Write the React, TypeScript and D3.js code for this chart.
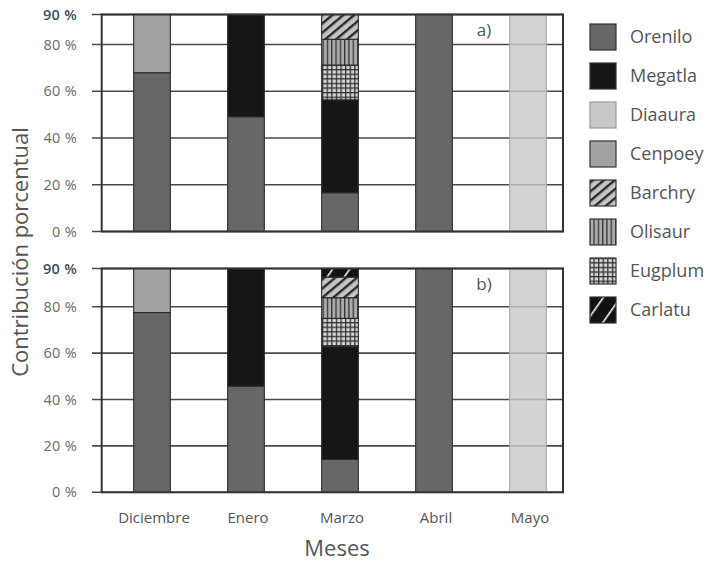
import React from "react";
import * as d3 from "d3";

const months = ["Diciembre", "Enero", "Marzo", "Abril", "Mayo"];
const species = ["Orenilo", "Megatla", "Diaaura", "Cenpoey", "Barchry", "Olisaur", "Eugplum", "Carlatu"];
const stackOrder = ["Orenilo", "Megatla", "Diaaura", "Cenpoey", "Eugplum", "Olisaur", "Barchry", "Carlatu"];

// Panel a)
const orenA = [67.9, 49.1, 16.6, 92.8, 0];
const megaA = [0, 43.7, 39.7, 0, 0];
const diaaA = [0, 0, 0, 0, 92.8];
const cenpA = [24.9, 0, 0, 0, 0];
const barcA = [0, 0, 10.6, 0, 0];
const olisA = [0, 0, 11.0, 0, 0];
const eugpA = [0, 0, 14.9, 0, 0];
const carlA = [0, 0, 0, 0, 0];

// Panel b)
const orenB = [77.5, 45.8, 14.2, 96.5, 0];
const megaB = [0, 50.7, 48.6, 0, 0];
const diaaB = [0, 0, 0, 0, 96.5];
const cenpB = [19.0, 0, 0, 0, 0];
const barcB = [0, 0, 8.9, 0, 0];
const olisB = [0, 0, 8.9, 0, 0];
const eugpB = [0, 0, 12.2, 0, 0];
const carlB = [0, 0, 3.7, 0, 0];

const tickValues = [0, 20, 40, 60, 80];
const tickLabels = ["0 %", "20 %", "40 %", "60 %", "80 %"];
const topTickLabel = "90 %";
const panelLabels = ["a)", "b)"];

const fills: Record<string, string> = {
  Orenilo: "#676767",
  Megatla: "#161616",
  Diaaura: "#c8c8c8",
  Cenpoey: "#a2a2a2",
  Barchry: "url(#pBarchry)",
  Olisaur: "url(#pOlisaur)",
  Eugplum: "url(#pEugplum)",
  Carlatu: "url(#pCarlatu)",
};

function buildRows(arrs: Record<string, number[]>) {
  return months.map((m, i) => {
    const r: any = { month: m };
    species.forEach((s) => (r[s] = arrs[s][i]));
    return r;
  });
}

const dataA = buildRows({ Orenilo: orenA, Megatla: megaA, Diaaura: diaaA, Cenpoey: cenpA, Barchry: barcA, Olisaur: olisA, Eugplum: eugpA, Carlatu: carlA });
const dataB = buildRows({ Orenilo: orenB, Megatla: megaB, Diaaura: diaaB, Cenpoey: cenpB, Barchry: barcB, Olisaur: olisB, Eugplum: eugpB, Carlatu: carlB });

const FONT = "'Open Sans', 'Noto Sans', sans-serif";
const frameL = 101.7;
const frameR = 563;
const tickL = 92;

const x = d3.scaleBand<string>().domain(months).range([105, 575]).paddingInner(0.61).paddingOuter(0.305);

function Panel({ data, top, bottom, label }: { data: any[]; top: number; bottom: number; label: string }) {
  const series = d3.stack<any>().keys(stackOrder)(data);
  const maxV = d3.max(data, (d) => d3.sum(stackOrder, (k) => d[k])) as number;
  const y = d3.scaleLinear().domain([0, maxV]).range([bottom, top]);
  const allTicks = [...tickValues, maxV];
  const allLabels = [...tickLabels, topTickLabel];
  return (
    <g>
      {allTicks.map((t, i) => (
        <line key={"g" + i} x1={tickL} x2={frameR} y1={y(t)} y2={y(t)} stroke="#4a4a4a" strokeWidth={1.6} />
      ))}
      {series.map((s) =>
        s.map((d, i) => {
          const h = y(d[0]) - y(d[1]);
          if (h <= 0.01) return null;
          const isD = s.key === "Diaaura";
          return (
            <rect
              key={s.key + i}
              x={x(months[i])}
              y={y(d[1])}
              width={x.bandwidth()}
              height={h}
              fill={fills[s.key]}
              fillOpacity={isD ? 0.82 : 1}
              stroke={isD ? "#a8a8a8" : "#2a2a2a"}
              strokeWidth={1.1}
            />
          );
        })
      )}
      <rect x={frameL} y={top} width={frameR - frameL} height={bottom - top} fill="none" stroke="#333" strokeWidth={2} />
      {allTicks.map((t, i) => (
        <text
          key={"t" + i}
          x={77}
          y={y(t)}
          dy="0.35em"
          textAnchor="end"
          fontFamily={FONT}
          fontSize={14.5}
          letterSpacing={0.3}
          fill={i === allTicks.length - 1 ? "#3f4c5a" : "#6a6a6a"}
          fontWeight={i === allTicks.length - 1 ? 600 : 400}
        >
          {allLabels[i]}
        </text>
      ))}
      <text x={484} y={top + 21} textAnchor="middle" fontFamily={FONT} fontSize={17} fill="#555">
        {label}
      </text>
    </g>
  );
}

export default function App() {
  const legendY = d3.scalePoint<string>().domain(species).range([24, 297]);
  return (
    <svg width={709} height={562} style={{ position: "absolute", left: 0, top: 0, background: "#fff" }}>
      <defs>
        <pattern id="pBarchry" patternUnits="userSpaceOnUse" width={7} height={7} patternTransform="rotate(-40)">
          <rect width={7} height={7} fill="#c4c4c4" />
          <rect width={7} height={2.4} y={0} fill="#2a2a2a" />
        </pattern>
        <pattern id="pOlisaur" patternUnits="userSpaceOnUse" width={4.3} height={4}>
          <rect width={4.3} height={4} fill="#acacac" />
          <rect x={0} width={1.3} height={4} fill="#333" />
        </pattern>
        <pattern id="pEugplum" patternUnits="userSpaceOnUse" width={4.6} height={4.6}>
          <rect width={4.6} height={4.6} fill="#d4d4d4" />
          <rect x={0} width={1.3} height={4.6} fill="#333" />
          <rect y={0} width={4.6} height={1.3} fill="#333" />
        </pattern>
        <pattern id="pCarlatu" patternUnits="userSpaceOnUse" width={14} height={14} patternTransform="rotate(-55)">
          <rect width={14} height={14} fill="#111" />
          <rect width={14} height={1.6} y={6} fill="#f0f0f0" />
        </pattern>
      </defs>
      <Panel data={dataA} top={14.5} bottom={231.5} label={panelLabels[0]} />
      <Panel data={dataB} top={268.5} bottom={492.3} label={panelLabels[1]} />
      {months.map((m) => (
        <text key={m} x={(x(m) as number) + x.bandwidth() / 2 + 2} y={523} textAnchor="middle" fontFamily={FONT} fontSize={15} fill="#555">
          {m}
        </text>
      ))}
      <text x={337} y={556} textAnchor="middle" fontFamily={FONT} fontSize={22} fill="#555">
        Meses
      </text>
      <text transform="translate(28,252) rotate(-90)" textAnchor="middle" fontFamily={FONT} fontSize={22} fill="#555">
        Contribución porcentual
      </text>
      {species.map((s) => {
        const yy = legendY(s) as number;
        return (
          <g key={s}>
            <rect x={590} y={yy} width={26} height={26} fill={fills[s]} stroke={s === "Diaaura" ? "#999" : "#333"} strokeWidth={1.2} />
            <text x={630} y={yy + 13} dy="0.36em" fontFamily={FONT} fontSize={18} fill="#555">
              {s}
            </text>
          </g>
        );
      })}
    </svg>
  );
}
